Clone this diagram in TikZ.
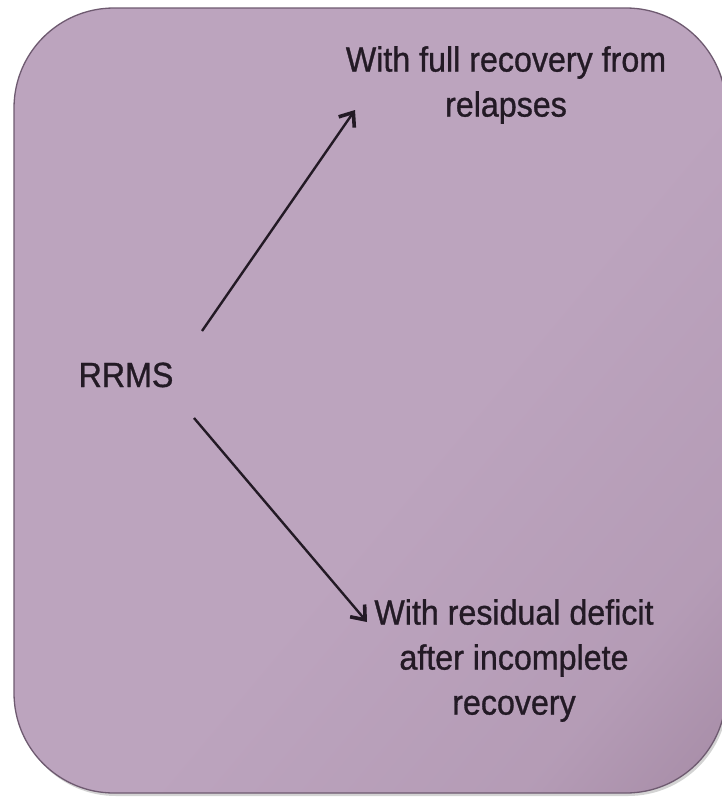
\documentclass[tikz,border=0pt]{standalone}
\usepackage{fontspec}
\usetikzlibrary{arrows.meta,shadows}
\newfontfamily\labfont[FakeStretch=0.92,FakeBold=0.9]{Liberation Sans}
\definecolor{boxlight}{HTML}{BCA4BE}
\definecolor{boxdark}{HTML}{927590}
\definecolor{boxline}{HTML}{6E5A70}
\definecolor{inkc}{HTML}{231A25}
\pgfdeclarehorizontalshading{boxshade}{100bp}{color(0bp)=(boxlight); color(55bp)=(boxlight); color(75bp)=(boxlight!82!boxdark); color(100bp)=(boxdark)}
\tikzset{
  lab/.style={font=\labfont\fontsize{35}{45}\selectfont, text=inkc, inner sep=0pt, align=center},
  conn/.style={draw=inkc, line width=2.4pt, -{Straight Barb[length=12pt,width=19pt,line width=3.6pt]}},
}
\begin{document}
\begin{tikzpicture}[x=1pt,y=-1pt]
\useasboundingbox (0,0) rectangle (722,798);
\path[draw=boxline, line width=1.3pt, rounded corners=100pt, shading=boxshade, shading angle=-40,
      drop shadow={shadow xshift=2pt, shadow yshift=-3pt, opacity=0.35}]
  (14,8) rectangle (726,793);
\node[lab, anchor=base] (rrms) at (126,387) {RRMS};
\node[lab, anchor=north] (full) at (506,46) {With full recovery from\\relapses};
\node[lab, anchor=north] (resid) at (514,599) {With residual deficit\\after incomplete\\recovery};
\coordinate (t1) at (202,331);
\coordinate (h1) at (355,110);
\coordinate (t2) at (194,418);
\coordinate (h2) at (367,622);
\draw[conn] (t1) -- (h1);
\draw[conn] (t2) -- (h2);
\end{tikzpicture}
\end{document}
